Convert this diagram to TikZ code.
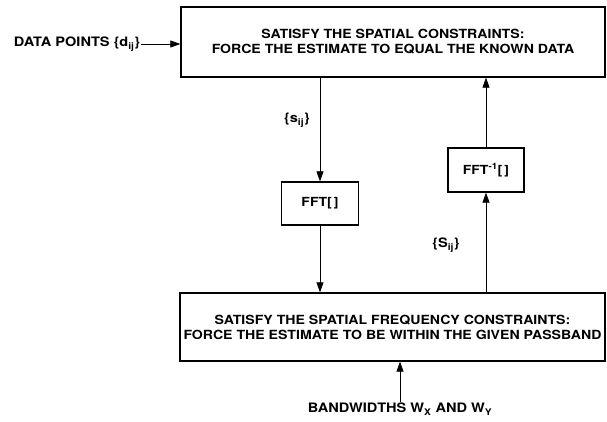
\documentclass[tikz,border=0pt]{standalone}
\usepackage{fontspec}
\setmainfont{TeX Gyre Heros}[FakeStretch=1.12]
\usetikzlibrary{arrows.meta,positioning,calc}

\begin{document}
\begin{tikzpicture}[x=1pt,y=-1pt,
    stagebox/.style={draw,line width=1.3pt,align=center,font=\bfseries\fontsize{12.6}{15}\selectfont,inner sep=0pt},
    fftbox/.style={draw,line width=1.3pt,font=\bfseries\fontsize{12.5}{14}\selectfont,inner sep=0pt},
    lbl/.style={font=\bfseries\fontsize{13}{15}\selectfont,inner sep=1pt},
    flow/.style={-{Triangle[length=10pt,width=7pt]},line width=0.7pt}]
  \useasboundingbox (0,0) rectangle (607,421);
  % Spatial constraints
  \node[stagebox,minimum width=424pt,minimum height=70pt] (spat) at (393,42)
    {SATISFY THE SPATIAL CONSTRAINTS:\\FORCE THE ESTIMATE TO EQUAL THE KNOWN DATA};
  % Frequency constraints
  \node[stagebox,minimum width=425pt,minimum height=68pt] (freq) at (392.5,327)
    {SATISFY THE SPATIAL FREQUENCY CONSTRAINTS:\\FORCE THE ESTIMATE TO BE WITHIN THE GIVEN PASSBAND};
  % Transforms
  \node[fftbox,minimum width=77pt,minimum height=43pt] (fft) at (320,203.5) {FFT[\,]};
  \node[fftbox,minimum width=76pt,minimum height=44pt] (ifft) at (486,170)
    {FFT\textsuperscript{-1}[\,]};
  % Inputs and labels
  \node[lbl] (data) at (77,44) {DATA POINTS \{d\textsubscript{ij}\}};
  \node[lbl] (band) at (400,409) {BANDWIDTHS W\textsubscript{X} AND W\textsubscript{Y}};
  \node[lbl] (sspat) at (297,120) {\{s\textsubscript{ij}\}};
  \node[lbl] (sfreq) at (446,245) {\{S\textsubscript{ij}\}};
  % Arrows
  \draw[flow] (data.east) -- (data.east -| spat.west);
  \draw[flow] (spat.south -| fft.north) -- (fft.north);
  \draw[flow] (fft.south) -- (fft.south |- freq.north);
  \draw[flow] (freq.north -| ifft.south) -- (ifft.south);
  \draw[flow] (ifft.north) -- (ifft.north |- spat.south);
  \draw[flow] (band.north) -- (band.north |- freq.south);
\end{tikzpicture}
\end{document}
